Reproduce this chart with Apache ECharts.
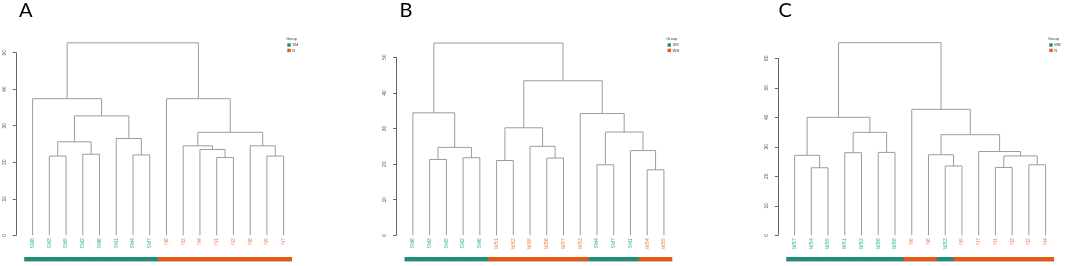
<!DOCTYPE html>
<html>
<head>
<meta charset="utf-8">
<script src="https://cdn.jsdelivr.net/npm/echarts@6/dist/echarts.min.js"></script>
<style>
html, body { margin: 0; padding: 0; background: #fff; }
#main { width: 1065px; height: 266px; }
</style>
</head>
<body>
<div id="main"></div>
<script>
// panel A : SM vs N
var labelsA = ['SM8', 'SM3', 'SM5', 'SM2', 'SM6', 'SM1', 'SM4', 'SM7', 'N6', 'N2', 'N4', 'N1', 'N3', 'N8', 'N5', 'N7'];
var groupsA = ['SM', 'SM', 'SM', 'SM', 'SM', 'SM', 'SM', 'SM', 'N', 'N', 'N', 'N', 'N', 'N', 'N', 'N'];
var legendA = ['SM', 'N'];
// hclust style merges: negative = leaf position, positive = earlier merge, then height
var mergeA = [
	[-2, -3, 21.7], [-4, -5, 22.2], [-7, -8, 22.0], [-12, -13, 21.3], [-15, -16, 21.7],
	[-11, 4, 23.5], [-10, 6, 24.5], [-14, 5, 24.5], [1, 2, 25.6], [-6, 3, 26.5],
	[7, 8, 28.2], [9, 10, 32.7], [-1, 12, 37.4], [-9, 11, 37.4], [13, 14, 52.7]
];

// panel B : SM vs WB
var labelsB = ['SM8', 'SM3', 'SM5', 'SM2', 'SM6', 'WB1', 'WB2', 'WB8', 'WB6', 'WB7', 'WB3', 'SM4', 'SM7', 'SM1', 'WB4', 'WB5'];
var groupsB = ['SM', 'SM', 'SM', 'SM', 'SM', 'WB', 'WB', 'WB', 'WB', 'WB', 'WB', 'SM', 'SM', 'SM', 'WB', 'WB'];
var legendB = ['SM', 'WB'];
var mergeB = [
	[-15, -16, 18.4], [-12, -13, 19.8], [-6, -7, 21.0], [-2, -3, 21.3], [-9, -10, 21.7],
	[-4, -5, 21.8], [-14, 1, 23.8], [4, 6, 24.7], [-8, 5, 25.0], [2, 7, 29.0],
	[3, 9, 30.2], [-11, 10, 34.2], [-1, 8, 34.4], [11, 12, 43.4], [13, 14, 54.0]
];

// panel C : WB vs N
var labelsC = ['WB7', 'WB4', 'WB5', 'WB1', 'WB2', 'WB6', 'WB8', 'N6', 'N8', 'WB3', 'N5', 'N7', 'N1', 'N3', 'N2', 'N4'];
var groupsC = ['WB', 'WB', 'WB', 'WB', 'WB', 'WB', 'WB', 'N', 'N', 'WB', 'N', 'N', 'N', 'N', 'N', 'N'];
var legendC = ['WB', 'N'];
var mergeC = [
	[-2, -3, 22.9], [-13, -14, 23.0], [-10, -11, 23.5], [-15, -16, 23.9], [2, 4, 26.9],
	[-1, 1, 27.1], [-9, 3, 27.3], [-4, -5, 28.0], [-6, -7, 28.1], [-12, 5, 28.4],
	[8, 9, 34.9], [7, 10, 34.1], [6, 11, 40.0], [-8, 12, 42.7], [13, 14, 65.3]
];

var panelTitles = ['A', 'B', 'C'];
var yMax = [50, 50, 60];

var palette = ['#1b9077', '#e8590f'];
var labelPalette = ['#22b595', '#f07c40'];
var lineColor = '#9c9c9c';

var panels = [
	{ labels: labelsA, groups: groupsA, legend: legendA, merge: mergeA, left: 13, top: 52.7 },
	{ labels: labelsB, groups: groupsB, legend: legendB, merge: mergeB, left: 393.3, top: 57.3 },
	{ labels: labelsC, groups: groupsC, legend: legendC, merge: mergeC, left: 775, top: 58.3 }
];

function treeLinks(merge) {
	var nx = [], nh = [], out = [];
	function node(id) {
		return id < 0 ? [-id, 0] : [nx[id - 1], nh[id - 1]];
	}
	for (var k = 0; k < merge.length; k++) {
		var l = node(merge[k][0]), r = node(merge[k][1]);
		out.push([l[0], l[1], r[0], r[1], merge[k][2]]);
		nx[k] = (l[0] + r[0]) / 2;
		nh[k] = merge[k][2];
	}
	return out;
}

function renderLink(params, api) {
	var p1 = api.coord([api.value(0), api.value(1)]);
	var p2 = api.coord([api.value(0), api.value(4)]);
	var p3 = api.coord([api.value(2), api.value(4)]);
	var p4 = api.coord([api.value(2), api.value(3)]);
	return {
		type: 'polyline',
		shape: { points: [p1, p2, p3, p4] },
		style: { stroke: lineColor, lineWidth: 1, fill: null }
	};
}

function leafRenderer(panel) {
	return function(params, api) {
		var i = params.dataIndex;
		var x = api.value(0);
		var p = api.coord([x, 0]);
		var lo = api.coord([x - 0.5, 0]);
		var hi = api.coord([x + 0.5, 0]);
		var k = panel.legend.indexOf(panel.groups[i]);
		var w = hi[0] - lo[0] + (i < panel.labels.length - 1 ? 0.8 : 0);
		return {
			type: 'group',
			children: [{
				type: 'text',
				x: p[0],
				y: p[1] + 3,
				rotation: Math.PI / 2,
				style: {
					text: panel.labels[i],
					fill: labelPalette[k],
					fontSize: 5,
					fontFamily: 'Liberation Sans',
					align: 'right',
					verticalAlign: 'middle'
				}
			}, {
				type: 'rect',
				z2: i,
				shape: { x: lo[0], y: p[1] + 21.7, width: w, height: 4 },
				style: { fill: palette[k] }
			}, {
				type: 'rect',
				z2: i,
				shape: { x: lo[0], y: p[1] + 25.7, width: w, height: 0.8 },
				style: { fill: '#b0b0b0' }
			}]
		};
	};
}

var grids = [], xAxes = [], yAxes = [], series = [], titles = [], graphics = [];

panels.forEach(function(panel, n) {
	grids.push({ left: panel.left, top: panel.top, width: 279, height: 235.3 - panel.top });
	xAxes.push({ gridIndex: n, type: 'value', min: -0.17, max: 16.5, show: false });
	yAxes.push({
		gridIndex: n,
		type: 'value',
		min: 0,
		max: yMax[n],
		interval: 10,
		axisLine: { show: true, lineStyle: { color: '#666', width: 1 } },
		axisTick: { show: true, length: 3, lineStyle: { color: '#666' } },
		axisLabel: { rotate: 90, margin: 6, fontSize: 5, color: '#555', fontFamily: 'Liberation Sans' },
		splitLine: { show: false }
	});

	series.push({
		type: 'custom',
		xAxisIndex: n,
		yAxisIndex: n,
		clip: false,
		silent: true,
		renderItem: renderLink,
		data: treeLinks(panel.merge)
	});

	var leaves = panel.labels.map(function(name, i) { return [i + 1, 0]; });
	series.push({
		type: 'custom',
		xAxisIndex: n,
		yAxisIndex: n,
		clip: false,
		silent: true,
		renderItem: leafRenderer(panel),
		data: leaves
	});

	titles.push({
		text: panelTitles[n],
		left: [19, 399.5, 778.5][n],
		top: 0.5,
		padding: 0,
		textStyle: { fontSize: 20, fontWeight: 'normal', color: '#000', fontFamily: 'Lato' }
	});

	// legend box
	var lx = panel.left + 274.3;
	graphics.push({
		type: 'text', x: lx - 1.4, y: 39,
		style: { text: 'Group', fontSize: 4, fill: '#444', fontFamily: 'Liberation Sans', verticalAlign: 'middle' }
	});
	panel.legend.forEach(function(g, j) {
		graphics.push({
			type: 'rect',
			shape: { x: lx, y: 43.3 + j * 5.4, width: 3.4, height: 3.4 },
			style: { fill: palette[j] }
		});
		graphics.push({
			type: 'text', x: lx + 5, y: 45 + j * 5.4,
			style: { text: g, fontSize: 4, fill: '#444', fontFamily: 'Liberation Sans', verticalAlign: 'middle' }
		});
	});
});

var chart = echarts.init(document.getElementById('main'));
chart.setOption({
	animation: false,
	title: titles,
	grid: grids,
	xAxis: xAxes,
	yAxis: yAxes,
	graphic: graphics,
	series: series
});
</script>
</body>
</html>
